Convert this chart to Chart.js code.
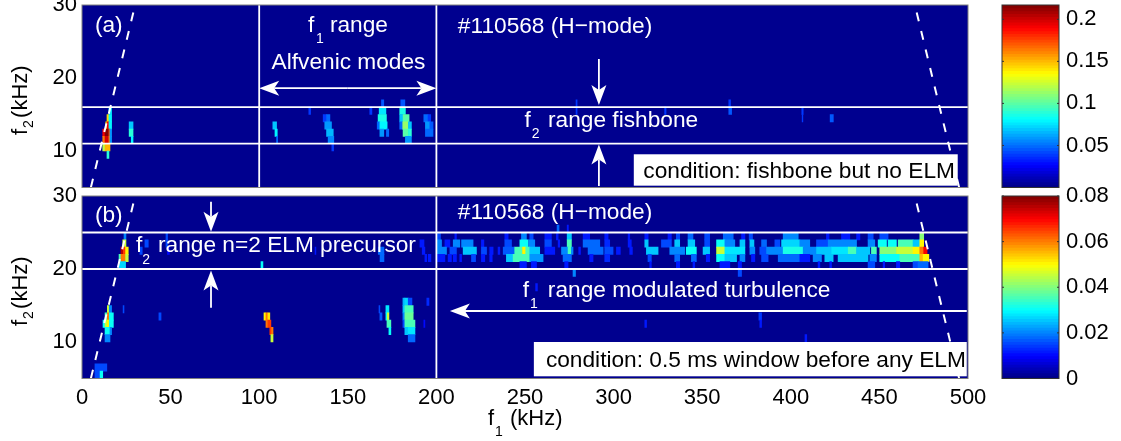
<!DOCTYPE html>
<html>
<head>
<meta charset="utf-8">
<script src="https://cdn.jsdelivr.net/npm/chart.js@4/dist/chart.umd.min.js"></script>
<style>
  html, body { margin: 0; background: #fff; overflow: hidden; }
  canvas { position: absolute; left: 0; top: 0; }
</style>
</head>
<body>
<canvas id="panelA" width="1121" height="441"></canvas>
<canvas id="panelB" width="1121" height="441"></canvas>
<canvas id="barA" width="1121" height="441"></canvas>
<canvas id="barB" width="1121" height="441"></canvas>
<script>
// each run: [f2 row centre, f1 from, f1 to, amplitude]
const runsA = [
  [15.5,15.2,16.7,.075],[14.5,14.1,15.2,.145],[14.5,15.2,16.7,.08],[13.5,13.4,14.1,.14],[13.5,14.1,15.2,.19],[13.5,15.2,16.7,.08],
  [12.5,11.7,13,.19],[12.5,13,15.2,.215],[12.5,15.2,15.8,.17],[12.5,15.8,16.7,.06],
  [11.5,11.7,13,.165],[11.5,13,15.2,.2],[11.5,15.2,15.8,.16],[11.5,15.8,16.7,.06],
  [10.5,11.7,13,.12],[10.5,13,15.8,.15],[9.5,14.1,15.2,.09],
  [13.5,26.6,28.8,.07],[12.5,26.6,28.8,.09],[11.5,27.8,28.8,.08],
  [13.5,107.7,109.8,.07],[12.5,108.9,110.2,.08],[11.5,109.8,110.4,.05],[15.5,128,129,.04],
  [14.5,136.1,138,.04],[14.5,138,139.9,.05],[13.5,137,140.8,.06],[12.5,138,141.8,.065],[11.5,138.9,142.1,.055],[10.5,141,142,.04],
  [15.5,162.4,163.6,.04],[16.5,169,170.3,.045],[15.5,167.7,171.5,.075],[14.5,167.1,171.8,.085],
  [13.5,166.6,168.1,.05],[13.5,168.1,172.2,.08],[12.5,168.1,170.3,.06],[12.5,171.8,173.1,.05],
  [16.5,179.9,182.2,.045],[15.5,179.3,182.5,.085],[14.5,179.3,181.2,.07],[14.5,181.2,184.6,.1],
  [13.5,179.3,181,.05],[13.5,181,184.2,.115],[13.5,184.2,185.9,.07],[12.5,181.2,184.2,.1],[12.5,184.2,185.9,.09],[11.5,182.5,185.9,.06],
  [14.5,192.9,195.3,.05],[14.5,195.3,196.8,.04],[13.5,193.8,196.3,.06],[13.5,196.3,198.1,.045],[12.5,193.8,198.1,.05],
  [16.5,278.8,279.4,.04],[15.5,278.8,279.4,.04],[15.5,328.8,329.6,.04],[16.5,365,366,.04],[15.5,365,366.6,.045],
  [15.5,406.2,407,.04],[14.5,406.4,406.8,.04],[14.5,422.2,424,.045]
];
const runsBLow = [
  [24.5,23.7,24.8,.02],[23.5,23,24.8,.045],[22.5,22,23.3,.075],[22.5,23.3,24.6,.065],[22.5,24.6,26.1,.05],
  [21.5,20.9,22,.035],[21.5,22,24.6,.06],[21.5,24.6,26.1,.045],[20.5,20.9,24.6,.027],
  [14.5,14.3,15.4,.045],[14.5,15.4,16.7,.02],[13.5,13,14.3,.035],[13.5,14.3,15.4,.06],[13.5,15.4,17.7,.03],
  [12.5,11.85,13,.03],[12.5,13,14.3,.045],[12.5,14.3,15.4,.05],[12.5,15.4,17.7,.03],
  [11.5,13,15.8,.03],[11.5,15.8,16.7,.02],[10.5,13,15.8,.02],
  [14.5,23.2,23.7,.015],[13.5,43.4,44.6,.015],[6.5,7.3,14,.015],[5.5,7.3,10.2,.015],[5.5,10.2,11.7,.03],
  [23.5,35.5,37.4,.015],[22.5,32.7,34,.015],[24.5,47.4,48.3,.015],[23.5,47.4,48.3,.015],[22.5,48.2,49.3,.01],
  [22.5,131.5,132,.012],[20.5,101,102.1,.03],[22.5,167.2,170.4,.018],[21.5,168.2,170.4,.018],
  [23.5,190.7,193,.012],[22.5,192,193.5,.012],[21.5,193.5,194.5,.012],[21.5,195.4,196.9,.012],
  [13.5,102.7,103.8,.05],[13.5,103.8,104.9,.06],[13.5,104.9,106,.052],[12.5,103.8,104.9,.06],[12.5,104.9,106.6,.066],
  [11.5,106,107,.066],[11.5,107,107.8,.06],[10.5,106.6,107.8,.045],
  [14.5,167.6,168.1,.015],[13.5,168.1,169.3,.017],[14.5,171.5,173.2,.028],[13.5,171.5,172.3,.03],[13.5,172.3,173.2,.045],
  [12.5,172.1,174.3,.035],[11.5,173.2,174.3,.03],
  [15.5,181.1,182.2,.024],[15.5,182.2,184.1,.027],[15.5,184.1,186.2,.015],[14.5,181.1,182.2,.025],[14.5,182.2,186.9,.035],
  [13.5,181.1,182.2,.02],[13.5,182.2,186.9,.038],[12.5,181.1,182.2,.015],[12.5,182.2,187.9,.035],
  [11.5,182.2,184.1,.025],[11.5,184.1,187.9,.028],[10.5,184.1,187.9,.018],[15.5,194.6,195.8,.013],[12.5,192.9,193.5,.01],
  [17.5,256,257,.012],[12.5,317.6,318.6,.012],[13.5,382,383.5,.014],[12.5,382.5,383.5,.012],[10.5,408,409,.012]
];
const runsBBand = [
  [25.5,268.1,269.2,.018],[25.5,273.8,274.5,.012],
  [24.5,200.4,202.3,.015],[24.5,210.4,211.3,.012],[24.5,238.6,240.5,.012],[24.5,248,250.8,.02],[24.5,252.7,254.6,.015],[24.5,261.2,264.9,.012],
  [24.5,267.7,268.7,.012],[24.5,273.8,276.2,.025],[24.5,282.8,286.5,.012],[24.5,295,296.9,.012],[24.5,308.2,309.1,.012],[24.5,317.6,319.5,.012],
  [24.5,330.7,332.6,.012],[24.5,335.4,337.3,.015],[24.5,342,344.8,.018],[24.5,351.4,354.2,.015],[24.5,361.9,367.5,.018],[24.5,372.2,374.1,.012],
  [24.5,376.5,378.4,.015],[24.5,395.7,404.2,.02],[24.5,420.1,421.6,.012],[24.5,428.6,433.3,.012],[24.5,437.1,439,.012],[24.5,443.6,446.5,.015],
  [24.5,450.2,454.9,.015],[24.5,472.8,475,.04],
  [23.5,200,202.9,.02],[23.5,204.8,207.6,.012],[23.5,209.5,213.2,.02],[23.5,214.2,220.7,.02],[23.5,225.4,226.8,.012],[23.5,238.6,242.4,.015],
  [23.5,247.1,251.8,.03],[23.5,252.1,255.5,.02],[23.5,261.2,264.9,.015],[23.5,268.7,269.6,.012],[23.5,273.8,276.2,.035],[23.5,282.8,292.2,.018],
  [23.5,295,297.8,.013],[23.5,308.2,310,.012],[23.5,317.6,319.5,.025],[23.5,327,332.6,.015],[23.5,334.5,337.3,.025],[23.5,342,345.8,.025],
  [23.5,351.4,354.2,.015],[23.5,358.1,362.8,.03],[23.5,362.8,368.4,.02],[23.5,371.3,374.1,.025],[23.5,376.9,379.2,.025],[23.5,383.5,386.3,.018],
  [23.5,391,393.8,.015],[23.5,394.8,405.1,.027],[23.5,405.1,410.7,.02],[23.5,414.5,421.1,.015],[23.5,421.1,429.5,.02],[23.5,429.5,437.1,.02],
  [23.5,443.6,447.4,.02],[23.5,449.3,454,.03],[23.5,454.9,459.6,.03],[23.5,460.6,469,.035],[23.5,469,472.8,.025],[23.5,472.8,475,.05],
  [22.5,200.4,205.7,.02],[22.5,207.6,211.3,.015],[22.5,215.1,222.6,.025],[22.5,225.4,228.3,.015],[22.5,230.1,232,.012],[22.5,234.8,235.8,.012],
  [22.5,237.7,244.2,.017],[22.5,244.2,248.6,.035],[22.5,248.6,250.4,.05],[22.5,250.4,252.7,.035],[22.5,252.7,258.3,.025],[22.5,261.2,266.8,.012],
  [22.5,270.6,274.3,.02],[22.5,274.3,276.2,.035],[22.5,276.2,277.1,.02],[22.5,280.3,281.3,.012],[22.5,285.6,294.1,.018],[22.5,295,299.7,.015],
  [22.5,301.6,303.8,.012],[22.5,309.1,310.6,.012],[22.5,318.5,325.1,.025],[22.5,331.7,340.1,.02],[22.5,341,346.7,.03],[22.5,350.5,354.2,.025],
  [22.5,358.1,362.8,.045],[22.5,362.8,374.1,.028],[22.5,376.9,379.7,.02],[22.5,382.5,386.3,.015],[22.5,386.3,395.7,.02],[22.5,395.7,407,.032],
  [22.5,407,414.5,.02],[22.5,414.5,423,.025],[22.5,423,432.4,.028],[22.5,432.4,437.1,.035],[22.5,437.1,444.6,.025],[22.5,445.5,448.3,.035],
  [22.5,450.2,459.6,.04],[22.5,459.6,469,.045],[22.5,469,472.8,.05],[22.5,472.8,475,.06],[22.5,475,476.9,.07],
  [21.5,200.4,204.8,.012],[21.5,206.6,208.5,.012],[21.5,209.5,211.3,.012],[21.5,213.2,214.2,.012],[21.5,219.8,222.1,.015],[21.5,225.4,227.3,.012],
  [21.5,230.1,231.5,.012],[21.5,239.5,243.3,.025],[21.5,243.3,252.7,.035],[21.5,252.7,260.2,.022],[21.5,271.5,276.2,.018],[21.5,286.5,288.4,.012],
  [21.5,295,297.8,.013],[21.5,319.4,321.3,.015],[21.5,334.5,337.3,.018],[21.5,343.9,346.7,.018],[21.5,352.3,354.2,.012],[21.5,358.1,362.8,.03],
  [21.5,362.8,369.4,.025],[21.5,371.3,374.1,.02],[21.5,377.8,379.7,.012],[21.5,383.5,387.2,.015],[21.5,392.9,405.1,.018],[21.5,405.1,410.7,.012],
  [21.5,412.6,417.3,.02],[21.5,419.2,423.9,.025],[21.5,426.7,432.4,.025],[21.5,432.4,443.6,.025],[21.5,444.6,448.3,.02],[21.5,450.2,461.5,.03],
  [21.5,461.5,472.8,.035],[21.5,472.8,474.7,.055],[21.5,474.7,477.9,.05],
  [20.5,247.1,250.8,.012],[20.5,253.6,256.5,.012],[20.5,272.4,274.3,.012],[20.5,320.4,321.3,.012],[20.5,335.4,337.3,.012],[20.5,344.8,345.8,.012],
  [20.5,360,365.6,.012],[20.5,370.3,372.2,.012],[20.5,415.4,416.4,.012],[20.5,422,423,.012],[20.5,443.6,447.4,.015],[20.5,452.1,453,.012],
  [20.5,459.6,461.5,.012],[20.5,469,471.8,.015],[20.5,471.8,477.5,.018],
  [19.5,277.1,278.5,.02],[19.5,370.3,372.2,.015]
];

const f1Ticks = [0, 50, 100, 150, 200, 250, 300, 350, 400, 450, 500];
const f2Ticks = [10, 20, 30];
const barTicksA = [0.05, 0.1, 0.15, 0.2];
const barTicksB = [0, 0.02, 0.04, 0.06, 0.08];
const maxA = 0.217, maxB = 0.08;

// overlay guides, in kHz
const hLinesA = [16, 11], vLinesA = [100, 200];
const hLinesB = [25, 20], vLinesB = [200];
const arrowsA = [[150,18.6,100,18.6],[150,18.6,200,18.6],[291.7,22.6,291.7,16.3],[291.7,5.2,291.7,10.9]];
const arrowsB = [[72.8,29.2,72.8,25.1],[72.8,14.7,72.8,19.8],[499.3,14.25,207.6,14.25]];
const TICK = 22, BIG = 22.7, SUB = 14;
const labelsA = [
  ['(a)',7.3,26.3,BIG],['f',127.5,26.3,BIG],['1',132,24.8,SUB],['range',139.9,26.3,BIG],['Alfvenic modes',107,21.3,BIG],
  ['#110568 (H\u2212mode)',212.1,26.2,BIG],['f',249.7,13.35,BIG],['2',253.8,11.8,SUB],['range fishbone',263,13.35,BIG]
];
const labelsB = [
  ['(b)',7.3,26.4,BIG],['f',30.5,22.3,BIG],['2',34,20.7,SUB],['range n=2 ELM precursor',42.9,22.3,BIG],
  ['#110568 (H\u2212mode)',212.1,26.85,BIG],['f',248.8,16.2,BIG],['1',252.8,14.7,SUB],['range modulated turbulence',262.9,16.2,BIG]
];
const boxA = { text: 'condition: fishbone but no ELM', x0: 311.4, x1: 494.2, y0: 5.25, y1: 9.55, tx: 316.8, ty: 6.3 };
const boxB = { text: 'condition: 0.5 ms window before any ELM', x0: 255, x1: 499.3, y0: 5.3, y1: 10, tx: 261.8, ty: 6.6 };

const FONT = 'Liberation Sans, Arial, sans-serif';
const NAVY = '#00008f';

function jet(t) {
  t = Math.max(0, Math.min(0.999, t));
  t = (Math.floor(t * 64) + 0.5) / 64;
  const ch = c => Math.round(255 * Math.max(0, Math.min(1, 1.5 - Math.abs(4 * t - c))));
  return `rgb(${ch(3)},${ch(2)},${ch(1)})`;
}

function lineSet(pts, dash) {
  return { type: 'line', data: pts, borderColor: '#fff', borderWidth: dash ? 2 : 1.8, borderDash: dash || [], pointRadius: 0, order: 1, tension: 0 };
}

function drawArrow(ctx, x0, y0, x1, y1) {
  const a = Math.atan2(y1 - y0, x1 - x0), L = 20, W = 7.5, N = 15;
  ctx.save();
  ctx.translate(x1, y1);
  ctx.rotate(a);
  ctx.fillStyle = ctx.strokeStyle = '#fff';
  ctx.lineWidth = 1.8;
  ctx.beginPath(); ctx.moveTo(-Math.hypot(x1 - x0, y1 - y0), 0); ctx.lineTo(-N, 0); ctx.stroke();
  ctx.beginPath(); ctx.moveTo(0, 0); ctx.lineTo(-L, -W); ctx.lineTo(-N, 0); ctx.lineTo(-L, W); ctx.closePath(); ctx.fill();
  ctx.restore();
}

// y axis title: rotated, with its subscript
function drawYTitle(ctx, yMid) {
  ctx.save();
  ctx.translate(27, yMid);
  ctx.rotate(-Math.PI / 2);
  ctx.fillStyle = '#000';
  ctx.textAlign = 'left';
  ctx.font = TICK + 'px ' + FONT;
  ctx.fillText('f', -35, 0);
  ctx.fillText('(kHz)', -18, 0);
  ctx.font = SUB + 'px ' + FONT;
  ctx.fillText('2', -28, 6);
  ctx.restore();
}

function mkPanel(id, runs, max, top, hLines, vLines, arrows, labels, box, isBottom) {
  const bars = {
    type: 'bar',
    indexAxis: 'y',
    data: runs.map(r => ({ y: r[0], x: [r[1], r[2]] })),
    backgroundColor: runs.map(r => jet(r[3] / max)),
    barPercentage: 1,
    categoryPercentage: 1,
    borderWidth: 0,
    order: 3
  };
  const guides = [
    ...hLines.map(v => lineSet([{ x: 0, y: v }, { x: 500, y: v }])),
    ...vLines.map(v => lineSet([{ x: v, y: 5 }, { x: v, y: 30 }])),
    lineSet([{ x: 5, y: 5 }, { x: 30, y: 30 }], [9, 10]),
    lineSet([{ x: 495, y: 5 }, { x: 470, y: 30 }], [9, 10])
  ];
  const overlay = {
    id: 'overlay',
    beforeDatasetsDraw(chart) {
      const { ctx, chartArea: c } = chart;
      ctx.save();
      ctx.fillStyle = NAVY;
      ctx.fillRect(c.left, c.top, c.width, c.height);
      ctx.restore();
    },
    afterDatasetsDraw(chart) {
      const { ctx, chartArea: c, scales: { x, y } } = chart;
      ctx.save();
      arrows.forEach(a => drawArrow(ctx, x.getPixelForValue(a[0]), y.getPixelForValue(a[1]), x.getPixelForValue(a[2]), y.getPixelForValue(a[3])));
      ctx.fillStyle = '#fff';
      ctx.textAlign = 'left';
      labels.forEach(l => {
        ctx.font = l[3] + 'px ' + FONT;
        ctx.fillText(l[0], x.getPixelForValue(l[1]), y.getPixelForValue(l[2]));
      });
      ctx.fillRect(x.getPixelForValue(box.x0), y.getPixelForValue(box.y1), x.getPixelForValue(box.x1) - x.getPixelForValue(box.x0), y.getPixelForValue(box.y0) - y.getPixelForValue(box.y1));
      ctx.fillStyle = '#000';
      ctx.font = BIG + 'px ' + FONT;
      ctx.fillText(box.text, x.getPixelForValue(box.tx), y.getPixelForValue(box.ty));
      ctx.strokeStyle = '#808080';
      ctx.lineWidth = 1;
      ctx.strokeRect(c.left, c.top, c.width, c.height);
      drawYTitle(ctx, y.getPixelForValue(17));
      if (isBottom) {
        ctx.fillStyle = '#000';
        ctx.font = TICK + 'px ' + FONT;
        ctx.fillText('f', 488, 425);
        ctx.fillText('(kHz)', 510, 425);
        ctx.font = SUB + 'px ' + FONT;
        ctx.fillText('1', 495, 436);
      }
      ctx.restore();
    }
  };
  return new Chart(document.getElementById(id), {
    type: 'bar',
    data: { datasets: [bars, ...guides] },
    plugins: [overlay],
    options: {
      responsive: false,
      animation: false,
      devicePixelRatio: 1,
      layout: { padding: { left: 42, top: top, right: 153, bottom: isBottom ? 32.5 : 441 - top - 182.5 } },
      plugins: { legend: { display: false }, title: { display: false }, tooltip: { enabled: false } },
      scales: {
        x: {
          type: 'linear', min: 0, max: 500, offset: false,
          grid: { display: false, drawTicks: false }, border: { display: false },
          afterBuildTicks: s => { s.ticks = f1Ticks.map(v => ({ value: v })); },
          afterFit: s => { s.height = isBottom ? 30 : 0; s.paddingLeft = s.paddingRight = 0; },
          ticks: { display: isBottom, autoSkip: false, maxRotation: 0, color: '#000', padding: 6, font: { family: FONT, size: TICK } }
        },
        y: {
          type: 'linear', min: 5, max: 30, offset: false,
          grid: { display: false, drawTicks: false }, border: { display: false },
          afterBuildTicks: s => { s.ticks = f2Ticks.map(v => ({ value: v })); },
          afterFit: s => { s.width = 40; s.paddingTop = s.paddingBottom = 0; },
          ticks: { autoSkip: false, color: '#000', padding: 5, font: { family: FONT, size: TICK } }
        }
      }
    }
  });
}

function mkColorbar(id, max, ticks, top) {
  const levels = Array.from({ length: 64 }, (_, i) => i);
  const frame = {
    id: 'frame',
    afterDatasetsDraw(chart) {
      const { ctx, chartArea: c, scales: { y } } = chart;
      ctx.save();
      ctx.strokeStyle = '#333';
      ctx.lineWidth = 1;
      ctx.strokeRect(c.left, c.top, c.width, c.height);
      ctx.beginPath();
      ticks.forEach(v => {
        const p = y.getPixelForValue(v);
        ctx.moveTo(c.left, p); ctx.lineTo(c.left + 2, p);
        ctx.moveTo(c.right, p); ctx.lineTo(c.right - 2, p);
      });
      ctx.stroke();
      ctx.restore();
    }
  };
  return new Chart(document.getElementById(id), {
    type: 'bar',
    data: { datasets: [{
      indexAxis: 'y',
      data: levels.map(i => ({ y: (i + 0.5) / 64 * max, x: [0, 1] })),
      backgroundColor: levels.map(i => jet((i + 0.5) / 64)),
      barPercentage: 1, categoryPercentage: 1, borderWidth: 0,
      inflateAmount: 0.5
    }] },
    plugins: [frame],
    options: {
      responsive: false,
      animation: false,
      devicePixelRatio: 1,
      layout: { padding: { left: 1002, top: top, right: 0, bottom: 441 - top - 182.5 } },
      plugins: { legend: { display: false }, title: { display: false }, tooltip: { enabled: false } },
      scales: {
        x: { type: 'linear', min: 0, max: 1, offset: false, display: false },
        y: {
          type: 'linear', position: 'right', min: 0, max: max, offset: false,
          grid: { display: false, drawTicks: false }, border: { display: false },
          afterBuildTicks: s => { s.ticks = ticks.map(v => ({ value: v })); },
          afterFit: s => { s.width = 62; s.paddingTop = s.paddingBottom = 0; },
          ticks: { autoSkip: false, color: '#000', padding: 7, callback: v => String(v), font: { family: FONT, size: TICK } }
        }
      }
    }
  });
}

mkPanel('panelA', runsA, maxA, 5, hLinesA, vLinesA, arrowsA, labelsA, boxA, false);
mkPanel('panelB', runsBLow.concat(runsBBand), maxB, 196, hLinesB, vLinesB, arrowsB, labelsB, boxB, true);
mkColorbar('barA', maxA, barTicksA, 5);
mkColorbar('barB', maxB, barTicksB, 196);
</script>
</body>
</html>
